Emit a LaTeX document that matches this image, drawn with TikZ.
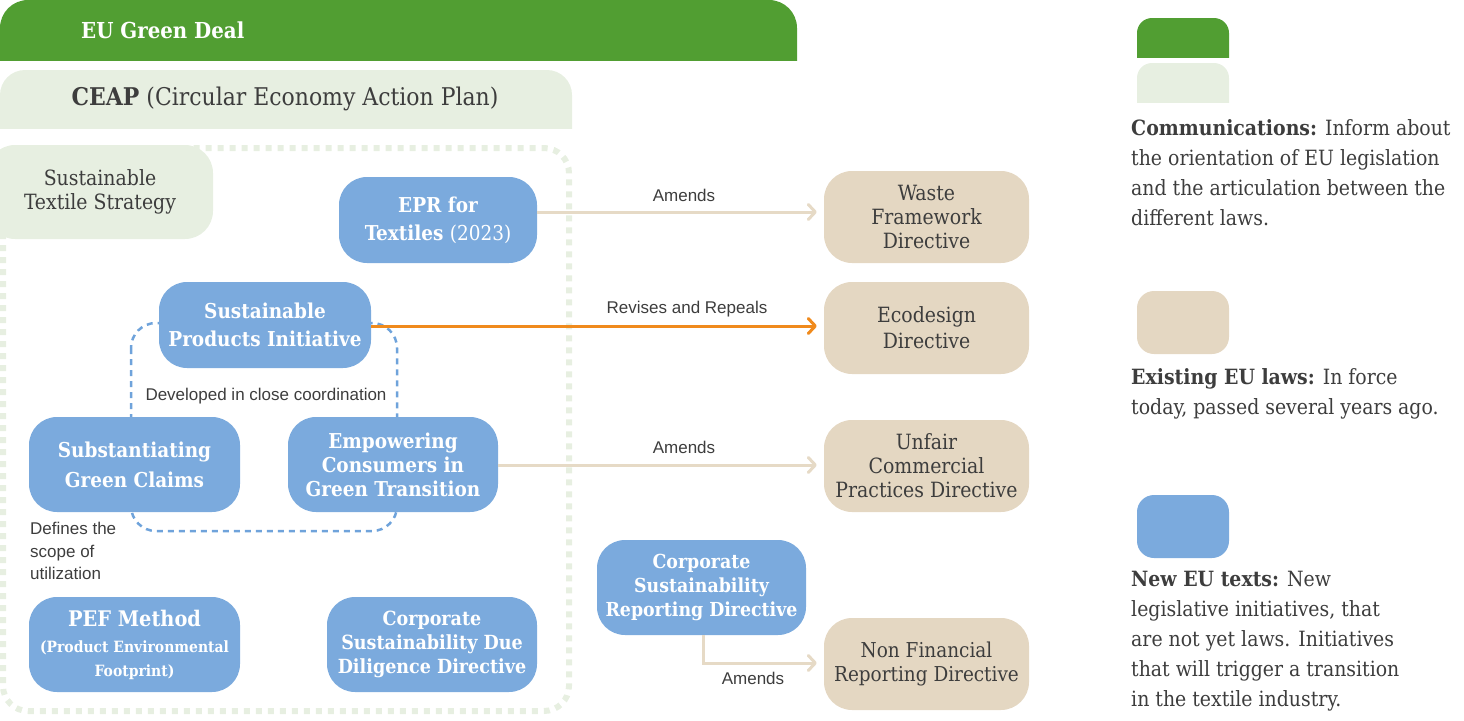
\documentclass[tikz,border=0pt]{standalone}
\usepackage{fontspec}
\setmainfont{DejaVu Serif Condensed}
\newfontfamily\labelfont{Liberation Sans}
\usetikzlibrary{arrows.meta}
\definecolor{gdeal}{HTML}{519E32}
\definecolor{ceap}{HTML}{E7EFE1}
\definecolor{newtxt}{HTML}{7BAADD}
\definecolor{law}{HTML}{E4D7C2}
\definecolor{lawarrow}{HTML}{E6DAC6}
\definecolor{orangearr}{HTML}{F08A1C}
\definecolor{ink}{HTML}{3D3D3D}
\definecolor{dashblue}{HTML}{6FA3DB}
\tikzset{
  box/.style={rounded corners=28pt, align=center, inner sep=0pt},
  newbox/.style={box, fill=newtxt, text=white, font=\bfseries\fontsize{20.5}{24}\selectfont},
  lawbox/.style={box, fill=law, text=ink, font=\fontsize{21}{24}\selectfont},
  stratbox/.style={box, fill=ceap, text=ink, font=\fontsize{21}{24}\selectfont},
  lbl/.style={font=\labelfont\fontsize{17}{21}\selectfont, text=ink, inner sep=0pt},
  legend/.style={font=\fontsize{21}{30}\selectfont, text=ink, align=left, inner sep=0pt, anchor=north west},
  amendarrow/.style={draw=lawarrow, line width=3pt, -{Straight Barb[length=7pt,width=15pt,line cap=round,line join=round]}, shorten >=7pt},
  revisearrow/.style={draw=orangearr, line width=3pt, -{Straight Barb[length=7pt,width=15pt,line cap=round,line join=round]}, shorten >=7pt}
}
\begin{document}
\begin{tikzpicture}[x=1pt,y=-1pt]
\useasboundingbox (0,0) rectangle (1464,720);
% EU Green Deal band
\begin{scope}
  \clip (0,0) rectangle (797,60);
  \fill[gdeal, rounded corners=28pt] (0,0) rectangle (797,120);
\end{scope}
\node[anchor=west, text=white, font=\bfseries\fontsize{22}{26}\selectfont, inner sep=0pt] (egd) at (81,30) {EU Green Deal};
% CEAP band
\begin{scope}
  \clip (0,70) rectangle (572,128);
  \fill[ceap, rounded corners=25pt] (0,70) rectangle (572,180);
\end{scope}
\node[text=ink, font=\fontsize{24.4}{28}\selectfont, inner sep=0pt] (ceaplbl) at (285,99) {\textbf{CEAP} (Circular Economy Action Plan)};
% dotted CEAP border
\draw[ceap, line width=6pt, dash pattern=on 6pt off 6pt, rounded corners=25pt] (3,148) rectangle (569,711);
% Sustainable Textile Strategy
\node[stratbox, minimum width=226pt, minimum height=94pt] (sts) at (100,192) {Sustainable\\Textile Strategy};
% dashed coordination outline
\draw[dashblue, line width=2.5pt, dash pattern=on 6pt off 5pt, rounded corners=25pt] (131,323) rectangle (397,531);
% new EU texts
\node[newbox, minimum width=198pt, minimum height=86pt, font=\bfseries\fontsize{20.5}{30}\selectfont] (epr) at (438,220) {EPR for\\[-2pt]Textiles {\mdseries(2023)}};
\node[newbox, minimum width=212pt, minimum height=86pt, font=\bfseries\fontsize{20.5}{30}\selectfont] (spi) at (265,325) {Sustainable\\[-2pt]Products Initiative};
\node[newbox, minimum width=211pt, minimum height=95pt, font=\bfseries\fontsize{20.5}{30}\selectfont] (sgc) at (134.5,464.5) {Substantiating\\Green Claims};
\node[newbox, minimum width=210pt, minimum height=95pt] (ecgt) at (393,464.5) {Empowering\\Consumers in\\Green Transition};
\node[newbox, minimum width=211pt, minimum height=95pt] (pef) at (134.5,644.5) {{\fontsize{21.5}{26}\selectfont PEF Method}\\[2pt]{\fontsize{15.5}{24}\selectfont (Product Environmental}\\{\fontsize{15.5}{24}\selectfont Footprint)}};
\node[newbox, minimum width=210pt, minimum height=95pt, font=\bfseries\fontsize{19.5}{24}\selectfont] (csddd) at (432,644.5) {Corporate\\Sustainability Due\\Diligence Directive};
\node[newbox, minimum width=209pt, minimum height=95pt, font=\bfseries\fontsize{19.3}{24}\selectfont] (csrd) at (701.5,587.5) {Corporate\\Sustainability\\Reporting Directive};
% existing laws
\node[lawbox, minimum width=205pt, minimum height=92pt] (wfd) at (926.5,217) {Waste\\Framework\\Directive};
\node[lawbox, minimum width=205pt, minimum height=92pt, font=\fontsize{21}{26}\selectfont] (eco) at (926.5,328) {Ecodesign\\Directive};
\node[lawbox, minimum width=205pt, minimum height=92pt] (ucpd) at (926.5,466) {Unfair\\Commercial\\Practices Directive};
\node[lawbox, minimum width=205pt, minimum height=92pt, font=\fontsize{20.5}{24}\selectfont] (nfrd) at (926.5,664) {Non Financial\\Reporting Directive};
% labels
\node[lbl] (devlbl) at (266,396) {Developed in close coordination};
\node[lbl, align=left, anchor=north west, font=\labelfont\fontsize{17}{22.5}\selectfont] (deflbl) at (30,522) {Defines the\\scope of\\utilization};
% arrows
\draw[amendarrow] (epr.east |- 0,212) -- (wfd.west |- 0,212);
\node[lbl] (am1) at (684,195) {Amends};
\draw[revisearrow] (spi.east |- 0,326) -- (eco.west |- 0,326);
\node[lbl] (rev) at (687,309) {Revises and Repeals};
\draw[amendarrow] (csrd.south -| 703,0) |- (nfrd.west |- 0,663);
\draw[amendarrow] (ecgt.east |- 0,465) -- (ucpd.west |- 0,465);
\node[lbl] (am2) at (684,447) {Amends};
\node[lbl] (am3) at (753,678) {Amends};
% legend
\begin{scope}
  \clip (1137,18) rectangle (1229,57);
  \fill[gdeal, rounded corners=15pt] (1137,18) rectangle (1229,90);
\end{scope}
\begin{scope}
  \clip (1137,63) rectangle (1229,102);
  \fill[ceap, rounded corners=15pt] (1137,63) rectangle (1229,140);
\end{scope}
\fill[law, rounded corners=17pt] (1137,291) rectangle (1229,354);
\fill[newtxt, rounded corners=17pt] (1137,495) rectangle (1229,558);
\node[legend] (lg1) at (1131,119) {\textbf{Communications:} Inform about\\the orientation of EU legislation\\and the articulation between the\\different laws.};
\node[legend] (lg2) at (1131,368) {\textbf{Existing EU laws:} In force\\today, passed several years ago.};
\node[legend] (lg3) at (1131,571) {\textbf{New EU texts:} New\\legislative initiatives, that\\are not yet laws. Initiatives\\that will trigger a transition\\in the textile industry.};
\end{tikzpicture}
\end{document}
